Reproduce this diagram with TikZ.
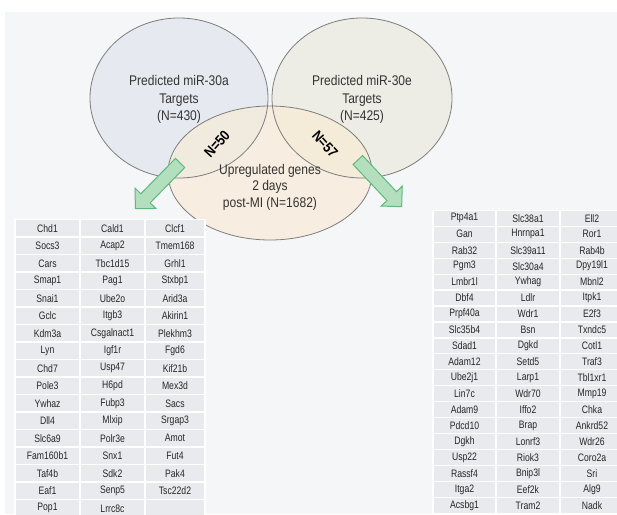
\documentclass[tikz,border=0pt]{standalone}
\usepackage{fontspec}
\setmainfont{Liberation Sans}
\newfontfamily\vennfont{Liberation Sans}[FakeStretch=0.86]
\newfontfamily\genefont{Liberation Sans}[FakeStretch=0.8]
\usetikzlibrary{shapes.arrows}

\definecolor{panelgray}{HTML}{F5F6F8}
\definecolor{setA}{HTML}{E6EAF0}
\definecolor{setE}{HTML}{EDEDE5}
\definecolor{setUp}{HTML}{F9EAD2}
\definecolor{rimgray}{HTML}{7D7D7D}
\definecolor{cellgray}{HTML}{E8EAED}
\definecolor{arrowfill}{HTML}{B3DFBF}
\definecolor{arrowrim}{HTML}{5DB97D}

\tikzset{
  cell/.style={rectangle, fill=cellgray, draw=white, line width=1.2pt,
    inner sep=0pt, outer sep=0pt, text=black!85,
    font=\genefont\fontsize{10.8}{12}\selectfont},
  bigarrow/.style={single arrow, draw=arrowrim, fill=arrowfill, line width=1pt,
    minimum height=64pt, single arrow head extend=8pt,
    single arrow tip angle=90, inner xsep=0pt, inner ysep=6pt},
  vennlabel/.style={align=center, text=black!80, inner sep=0pt,
    font=\vennfont\fontsize{14}{17.5}\selectfont},
  overlap/.style={inner sep=0pt, font=\vennfont\bfseries\fontsize{14.5}{16}\selectfont}
}

\begin{document}
\begin{tikzpicture}[x=1pt,y=-1pt]
\clip (0,0) rectangle (617,514);

% background
\fill[white] (0,0) rectangle (617,514);
\fill[panelgray] (5,12) rectangle (617,514);

% sets
\fill[setA] (179,98) ellipse [x radius=89, y radius=80];
\fill[setE] (362,98) ellipse [x radius=90, y radius=80];
\fill[setUp, fill opacity=0.6] (270,173) ellipse [x radius=102, y radius=67];
\draw[rimgray, line width=0.8pt] (179,98) ellipse [x radius=89, y radius=80];
\draw[rimgray, line width=0.8pt] (362,98) ellipse [x radius=90, y radius=80];
\draw[rimgray, line width=0.8pt] (270,173) ellipse [x radius=102, y radius=67];

\node[vennlabel] (mir30a) at (179,99.5) {Predicted miR-30a\\Targets\\(N=430)};
\node[vennlabel] (mir30e) at (362,99.5) {Predicted miR-30e\\Targets\\(N=425)};
\node[vennlabel, font=\vennfont\fontsize{14}{16.5}\selectfont] (upreg) at (270,187)
  {Upregulated genes\\2 days\\post-MI (N=1682)};

% overlaps
\node[overlap, rotate=48] (n50) at (217,144) {N=50};
\node[overlap, rotate=-48] (n57) at (325,144) {N=57};

% arrows to the lists
\node[bigarrow, rotate=225.6] (arrA) at (160,183.5) {};
\node[bigarrow, rotate=-46.8] (arrE) at (377.5,181) {};

% miR-30a list
\foreach \a/\b/\c [count=\r from 0] in {Chd1/Cald1/Clcf1, Socs3/Acap2/Tmem168,
  Cars/Tbc1d15/Grhl1, Smap1/Pag1/Stxbp1, Snai1/Ube2o/Arid3a, Gclc/Itgb3/Akirin1,
  Kdm3a/Csgalnact1/Plekhm3, Lyn/Igf1r/Fgd6, Chd7/Usp47/Kif21b, Pole3/H6pd/Mex3d,
  Ywhaz/Fubp3/Sacs, Dll4/Mlxip/Srgap3, Slc6a9/Polr3e/Amot, Fam160b1/Snx1/Fut4,
  Taf4b/Sdk2/Pak4, Eaf1/Senp5/Tsc22d2, Pop1/Lrrc8c/{}} {
  \node[cell, minimum width=65pt, minimum height=17.5pt] (a\r-1) at (47.5,{228.3+17.5*\r}) {\a};
  \node[cell, minimum width=65pt, minimum height=17.5pt] (a\r-2) at (112.5,{228.3+17.5*\r}) {\b};
  \node[cell, minimum width=60pt, minimum height=17.5pt] (a\r-3) at (175,{228.3+17.5*\r}) {\c};
}

% miR-30e list
\foreach \a/\b/\c [count=\r from 0] in {Ptp4a1/Slc38a1/Ell2, Gan/Hnrnpa1/Ror1,
  Rab32/Slc39a11/Rab4b, Pgm3/Slc30a4/Dpy19l1, Lmbr1l/Ywhag/Mbnl2, Dbf4/Ldlr/Itpk1,
  Prpf40a/Wdr1/E2f3, Slc35b4/Bsn/Txndc5, Sdad1/Dgkd/Cotl1, Adam12/Setd5/Traf3,
  Ube2j1/Larp1/Tbl1xr1, Lin7c/Wdr70/Mmp19, Adam9/Iffo2/Chka, Pdcd10/Brap/Ankrd52,
  Dgkh/Lonrf3/Wdr26, Usp22/Riok3/Coro2a, Rassf4/Bnip3l/Sri, Itga2/Eef2k/Alg9,
  Acsbg1/Tram2/Nadk} {
  \node[cell, minimum width=63pt, minimum height=15.95pt] (e\r-1) at (464.5,{218.3+15.95*\r}) {\a};
  \node[cell, minimum width=64pt, minimum height=15.95pt] (e\r-2) at (528,{218.3+15.95*\r}) {\b};
  \node[cell, minimum width=64pt, minimum height=15.95pt] (e\r-3) at (592,{218.3+15.95*\r}) {\c};
}

\end{tikzpicture}
\end{document}
